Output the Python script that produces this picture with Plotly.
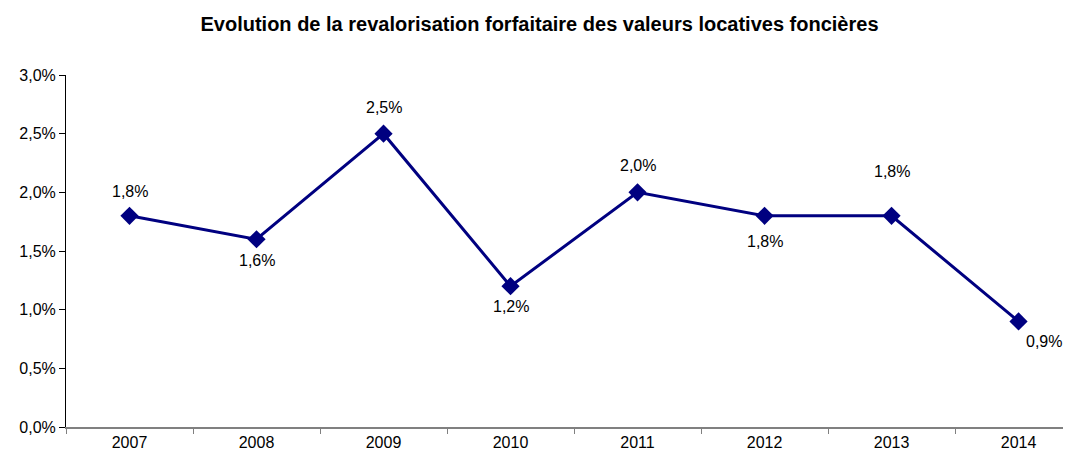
import plotly.graph_objects as go

# Revalorisation forfaitaire des valeurs locatives foncières
years = ["2007", "2008", "2009", "2010", "2011", "2012", "2013", "2014"]
rates = [0.018, 0.016, 0.025, 0.012, 0.020, 0.018, 0.018, 0.009]
labels = ["1,8%", "1,6%", "2,5%", "1,2%", "2,0%", "1,8%", "1,8%", "0,9%"]

# label offsets (px) relative to each marker
label_dx = [0, 0, 0, 0, 0, 0, 0, 25]
label_dy = [24, -21, 26, -20, 27, -26, 44, -20]

navy = "#000080"
font = "Liberation Sans, Arial, sans-serif"

fig = go.Figure()
fig.add_trace(go.Scatter(
    x=years,
    y=rates,
    mode="lines+markers",
    line=dict(color=navy, width=3),
    marker=dict(symbol="diamond", size=14, color=navy),
    hoverinfo="skip",
    showlegend=False,
))

# category axis -> annotations placed by category index
for i, (v, lab) in enumerate(zip(rates, labels)):
    fig.add_annotation(
        x=i, y=v, text=lab, showarrow=False,
        xshift=label_dx[i], yshift=label_dy[i],
        font=dict(family=font, size=16, color="black"),
    )

# the page body has an 8px margin, so the figure is 8px smaller than the window
fig.update_layout(
    width=1063,
    height=447,
    paper_bgcolor="white",
    plot_bgcolor="white",
    separators=", ",
    font=dict(family=font, size=16, color="black"),
    title=dict(
        text="<b>Evolution de la revalorisation forfaitaire des valeurs locatives foncières</b>",
        x=0.5, xanchor="center", y=0.965, yanchor="middle",
        font=dict(family=font, size=20, color="black"),
    ),
    margin=dict(l=58, r=0, t=67, b=28, autoexpand=False),
)

fig.update_xaxes(
    type="category",
    range=[-0.5, 7.413],
    automargin=False,
    showline=True, linecolor="#808080", linewidth=2,
    ticks="outside", tickson="boundaries", ticklen=5, tickcolor="#808080",
    showgrid=False, zeroline=False,
    tickfont=dict(size=16),
)
fig.update_yaxes(
    range=[0, 0.03],
    dtick=0.005,
    tickformat=".1%",
    automargin=False,
    showline=True, linecolor="black", linewidth=1,
    ticks="outside", ticklen=6, tickcolor="black",
    showgrid=False, zeroline=False,
    tickfont=dict(size=16),
)

fig.write_html("out.html")
